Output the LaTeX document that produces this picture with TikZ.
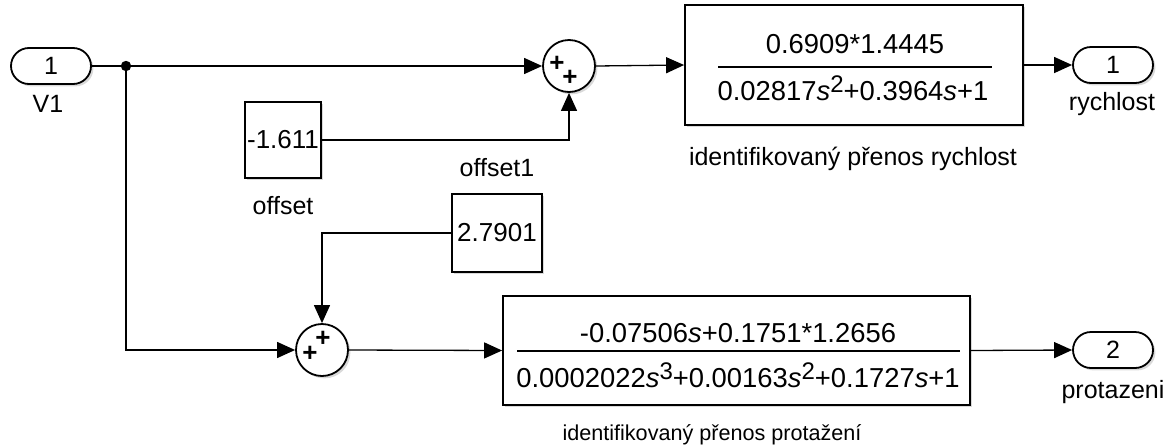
\documentclass[tikz,border=0pt]{standalone}
\usepackage{fontspec}
\setmainfont{Liberation Sans}
\usetikzlibrary{arrows.meta,shadows}
\newcommand{\tfs}{\fontsize{13.7}{15}\selectfont}
\newcommand{\sq}[1]{\raisebox{4pt}{\fontsize{12}{12}\selectfont #1}}
\begin{document}
\begin{tikzpicture}[x=0.5pt,y=-0.5pt,
  wire/.style={line width=0.65pt},
  arr/.style={wire,-{Triangle[length=9pt,width=8pt]}},
  blk/.style={draw,line width=0.9pt,fill=white,drop shadow={shadow xshift=1.2pt,shadow yshift=-1.2pt,opacity=0.3}},
  port/.style={blk,rounded corners=9pt,minimum width=40pt,minimum height=18pt,inner sep=0pt,font=\fontsize{12.5}{14}\selectfont},
  sumb/.style={blk,circle,minimum size=26pt,inner sep=0pt},
  sgn/.style={inner sep=0pt,font=\fontsize{13}{13}\selectfont\bfseries},
  lbl/.style={inner sep=0pt,font=\fontsize{12.5}{14}\selectfont},
  cst/.style={blk,inner sep=0pt,font=\fontsize{13}{15}\selectfont},
  tfbox/.style={blk,inner sep=0pt},
  tftxt/.style={inner sep=0pt,anchor=base,font=\tfs},
  fracline/.style={line width=1pt}
]
\useasboundingbox (0,0) rectangle (1176,445);

% ports
\node[port] (in1) at (51,66) {1};
\node[lbl] (in1l) at (48,104) {V1};
\node[port] (out1) at (1113,65) {1};
\node[lbl] (out1l) at (1112,104) {rychlost};
\node[port] (out2) at (1113,350) {2};
\node[lbl] (out2l) at (1113,392) {protazeni};

% constants
\node[cst,minimum width=38pt,minimum height=38pt] (c1) at (283,140) {-1.611};
\node[lbl] (c1l) at (283,206) {offset};
\node[cst,minimum width=45pt,minimum height=39pt] (c2) at (497,233) {2.7901};
\node[lbl] (c2l) at (497,168) {offset1};

% sums
\node[sumb] (s1) at (569,66) {};
\node[sgn] (s1a) at (557,64) {+};
\node[sgn] (s1b) at (570,78) {+};
\node[sumb] (s2) at (322,350) {};
\node[sgn] (s2a) at (310,354) {+};
\node[sgn] (s2b) at (323,339) {+};

% transfer function 1
\node[tfbox,minimum width=169pt,minimum height=60pt] (tf1) at (854,65) {};
\node[tftxt] (tf1n) at (855,53) {0.6909*1.4445};
\draw[fracline] (718,67) -- (992,67);
\node[tftxt] (tf1d) at (853,100) {0.02817\textit{s}\sq{2}+0.3964\textit{s}+1};
\node[lbl,anchor=base] (tf1l) at (853,165) {identifikovaný přenos rychlost};

% transfer function 2
\node[tfbox,minimum width=233.5pt,minimum height=54.5pt] (tf2) at (736.5,350.5) {};
\node[tftxt] (tf2n) at (738,342) {-0.07506\textit{s}+0.1751*1.2656};
\draw[fracline] (517,351) -- (960,351);
\node[tftxt] (tf2d) at (738,387) {0.0002022\textit{s}\sq{3}+0.00163\textit{s}\sq{2}+0.1727\textit{s}+1};
\node[inner sep=0pt,anchor=base,font=\fontsize{10.8}{12}\selectfont] (tf2l) at (712,440) {identifikovaný přenos protažení};

% junction
\coordinate (j) at (126,66);
\fill (j) circle (2.6pt);

% connectors
\draw[wire] (in1.east) -- (j);
\draw[arr] (j) -- (s1.west);
\draw[arr] (j) |- (s2.west);
\draw[arr] (c1.east) -| (s1.south);
\draw[arr] (c2.west) -| (s2.north);
\draw[arr] (s1.east) -- (tf1.west);
\draw[arr] (tf1.east) -- (out1.west);
\draw[arr] (s2.east) -- (tf2.west);
\draw[arr] (tf2.east) -- (out2.west);
\end{tikzpicture}
\end{document}
